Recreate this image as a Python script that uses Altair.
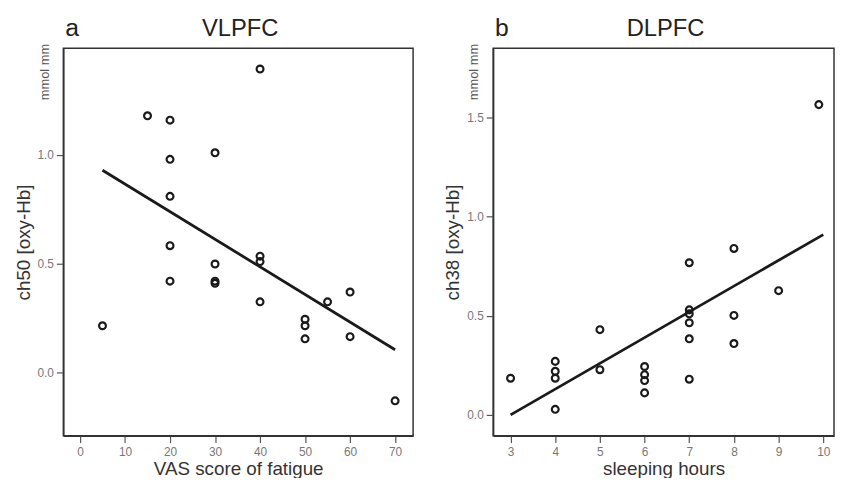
import altair as alt
import pandas as pd

FONT = "Liberation Sans"

# Panel a: VLPFC, ch50 vs VAS score of fatigue
a_x = [40, 15, 20, 30, 20, 20, 20, 20, 5, 30, 30, 30, 40, 40, 40, 50, 50, 50, 55, 60, 60, 70]
a_y = [1.395, 1.18, 1.16, 1.01, 0.98, 0.81, 0.583, 0.42, 0.215, 0.499, 0.42, 0.41,
       0.535, 0.51, 0.325, 0.245, 0.215, 0.155, 0.325, 0.37, 0.165, -0.13]
a_fit_x = [5, 70]
a_fit_y = [0.93, 0.105]
a_xticks = [0, 10, 20, 30, 40, 50, 60, 70]
a_yticks = [0.0, 0.5, 1.0]

# Panel b: DLPFC, ch38 vs sleeping hours
b_x = [9.9, 3, 4, 4, 4, 4, 5, 5, 6, 6, 6, 6, 7, 7, 7, 7, 7, 7, 8, 8, 8, 9]
b_y = [1.566, 0.185, 0.27, 0.22, 0.185, 0.028, 0.43, 0.228, 0.244, 0.203, 0.173, 0.111,
       0.768, 0.53, 0.51, 0.465, 0.384, 0.18, 0.84, 0.502, 0.36, 0.627]
b_fit_x = [3, 10]
b_fit_y = [0.0, 0.91]
b_xticks = [3, 4, 5, 6, 7, 8, 9, 10]
b_yticks = [0.0, 0.5, 1.0, 1.5]


def panel(xs, ys, fx, fy, letter, title, xtitle, ytitle, xdom, ydom, xticks, yticks, w, h):
    df = pd.DataFrame({"x": xs, "y": ys})
    fit = pd.DataFrame({"x": fx, "y": fy})
    xenc = alt.X("x:Q", scale=alt.Scale(domain=xdom, nice=False, zero=False),
                 axis=alt.Axis(values=xticks, title=xtitle, format="d"))
    yenc = alt.Y("y:Q", scale=alt.Scale(domain=ydom, nice=False, zero=False),
                 axis=alt.Axis(values=yticks, title=ytitle, format=".1f"))
    pts = alt.Chart(df).mark_point(shape="circle", filled=False, color="#1a1a1a",
                                   size=48, strokeWidth=2.2, opacity=1).encode(x=xenc, y=yenc)
    ln = alt.Chart(fit).mark_line(color="#1a1a1a", strokeWidth=2.8).encode(x="x:Q", y="y:Q")
    lab = alt.Chart(pd.DataFrame({"t": [letter]})).mark_text(
        align="left", baseline="alphabetic", fontSize=25, font=FONT, color="#222"
    ).encode(text="t:N", x=alt.value(2), y=alt.value(-13))
    ttl = alt.Chart(pd.DataFrame({"t": [title]})).mark_text(
        align="center", baseline="alphabetic", fontSize=24, font=FONT, color="#222"
    ).encode(text="t:N", x=alt.value(w / 2 + 2), y=alt.value(-13))
    unit = alt.Chart(pd.DataFrame({"t": ["mmol mm"]})).mark_text(
        align="center", baseline="middle", fontSize=13, font=FONT, color="#555", angle=270
    ).encode(text="t:N", x=alt.value(-19), y=alt.value(24))
    return alt.layer(pts, ln, lab, ttl, unit).properties(width=w, height=h)


pa = panel(a_x, a_y, a_fit_x, a_fit_y, "a", "VLPFC", "VAS score of fatigue", "ch50 [oxy-Hb]",
           [-3.7, 74], [-0.29, 1.49], a_xticks, a_yticks, 354, 392)
pb = panel(b_x, b_y, b_fit_x, b_fit_y, "b", "DLPFC", "sleeping hours", "ch38 [oxy-Hb]",
           [2.61, 10.24], [-0.105, 1.85], b_xticks, b_yticks, 345, 392)

chart = alt.hconcat(pa, pb, spacing=29).properties(
    padding={"left": 5, "top": 4, "right": 0, "bottom": -4}
).configure_view(
    stroke="#333", strokeWidth=1.5
).configure_axis(
    labelFont=FONT, labelFontSize=12, labelColor="#777",
    titleFont=FONT, titleFontSize=19, titleFontWeight="normal", titleColor="#333",
    domainColor="#333", domainWidth=1.5, tickColor="#555", tickWidth=1.2, tickSize=7,
    labelPadding=3, grid=False,
).configure_axisX(titlePadding=2, labelPadding=4).configure_axisY(titlePadding=4)

chart.save("out.html", embed_options={"renderer": "svg", "actions": False})
